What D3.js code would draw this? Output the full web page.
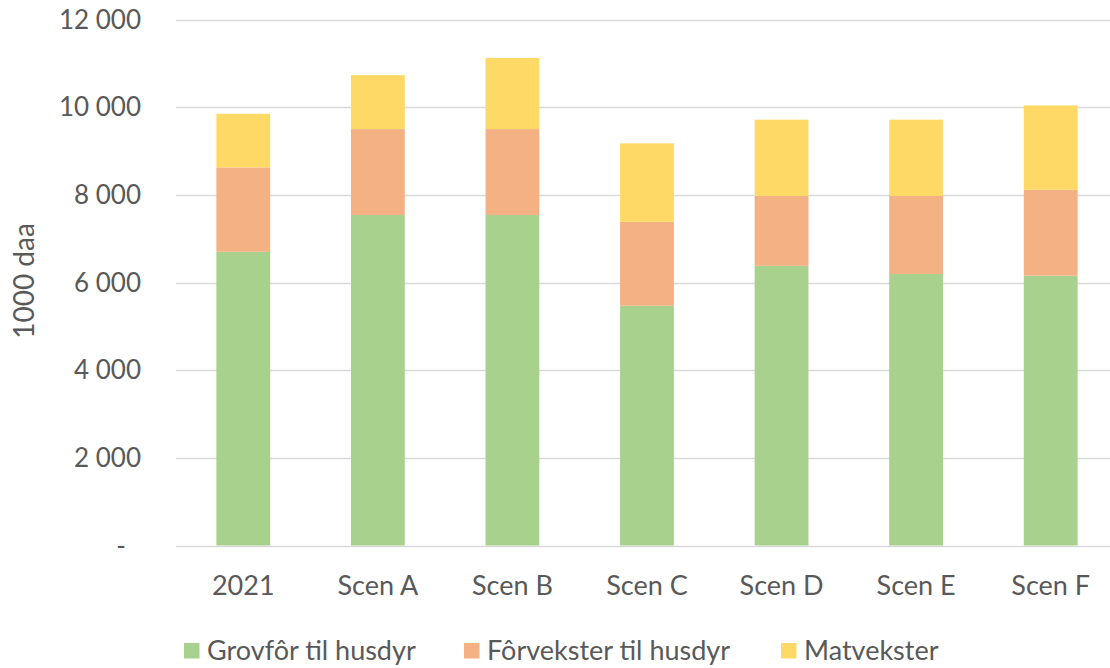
<!DOCTYPE html>
<html>
<head>
<meta charset="utf-8">
<script src="https://cdn.jsdelivr.net/npm/d3@7"></script>
<style>
  body { margin: 0; background: #fff; }
  text { font-family: Lato, "Open Sans", sans-serif; fill: #595959; }
</style>
</head>
<body>
<div id="chart"></div>
<script>
const categories = ["2021", "Scen A", "Scen B", "Scen C", "Scen D", "Scen E", "Scen F"]
const seriesNames = ["Grovfôr til husdyr", "Fôrvekster til husdyr", "Matvekster"]
const grovfor = [6700, 7540, 7540, 5470, 6380, 6195, 6155]
const forvekster = [1925, 1960, 1960, 1915, 1595, 1780, 1960]
const matvekster = [1225, 1230, 1625, 1790, 1740, 1740, 1925]
const yTicks = [0, 2000, 4000, 6000, 8000, 10000, 12000]
const colors = ["#a9d18e", "#f4b183", "#ffd966"]

const width = 1110, height = 668
const margin = {top: 19.5, right: -8, bottom: 122.5, left: 176}

const svg = d3.select("#chart").append("svg")
    .attr("width", width)
    .attr("height", height)

const rows = categories.map((c, i) => ({
    cat: c,
    [seriesNames[0]]: grovfor[i],
    [seriesNames[1]]: forvekster[i],
    [seriesNames[2]]: matvekster[i]
}))
const stacked = d3.stack().keys(seriesNames)(rows)

const x = d3.scaleBand()
    .domain(categories)
    .range([margin.left, width - margin.right])
    .paddingInner(0.6)
    .paddingOuter(0.3)

const y = d3.scaleLinear()
    .domain([0, 12000])
    .range([height - margin.bottom, margin.top])

const fmt = d3.formatLocale({thousands: " ", grouping: [3], decimal: ","}).format(",")
const tickFmt = d => d === 0 ? "-" : fmt(d)

// gridlines
svg.append("g")
    .selectAll("line")
    .data(yTicks)
    .join("line")
    .attr("x1", margin.left)
    .attr("x2", width)
    .attr("y1", d => Math.round(y(d)) + 0.5)
    .attr("y2", d => Math.round(y(d)) + 0.5)
    .attr("stroke", "#d9d9d9")
    .attr("stroke-width", 1.5)

// y tick labels
svg.append("g")
    .selectAll("text")
    .data(yTicks)
    .join("text")
    .attr("x", d => d === 0 ? 126 : 141)
    .attr("y", d => y(d))
    .attr("dy", "0.35em")
    .attr("text-anchor", "end")
    .style("font-size", "26px")
    .text(tickFmt)

// bars
svg.append("g")
    .selectAll("g")
    .data(stacked)
    .join("g")
    .attr("fill", (d, i) => colors[i])
    .selectAll("rect")
    .data(d => d)
    .join("rect")
    .attr("x", d => x(d.data.cat))
    .attr("y", d => y(d[1]))
    .attr("width", x.bandwidth())
    .attr("height", d => y(d[0]) - y(d[1]))

// x labels
svg.append("g")
    .selectAll("text")
    .data(categories)
    .join("text")
    .attr("x", d => x(d) + x.bandwidth() / 2)
    .attr("y", 595)
    .attr("text-anchor", "middle")
    .style("font-size", "27px")
    .text(d => d)

// y axis title
svg.append("text")
    .attr("transform", "translate(34, 281) rotate(-90)")
    .attr("text-anchor", "middle")
    .style("font-size", "28px")
    .text("1000 daa")

// legend
const legendX = [184, 464, 781]
const legend = svg.append("g")
    .selectAll("g")
    .data(seriesNames)
    .join("g")
    .attr("transform", (d, i) => `translate(${legendX[i]}, 651)`)
legend.append("rect")
    .attr("x", 0)
    .attr("y", -8)
    .attr("width", 15.5)
    .attr("height", 15.5)
    .attr("fill", (d, i) => colors[i])
legend.append("text")
    .attr("x", 23)
    .attr("y", 0)
    .attr("dy", "0.35em")
    .style("font-size", "27px")
    .text(d => d)
</script>
</body>
</html>
